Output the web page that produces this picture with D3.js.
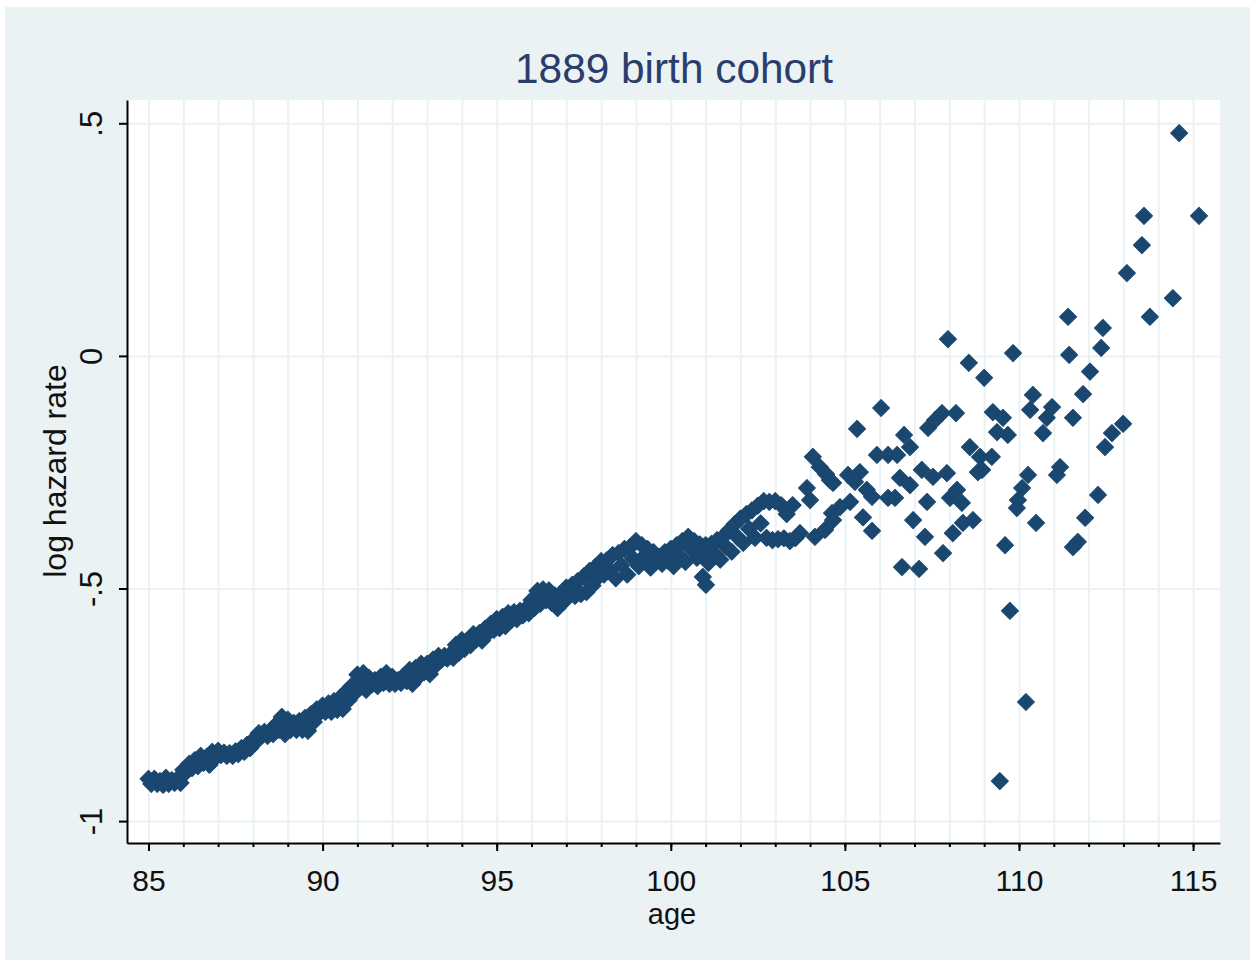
<!DOCTYPE html>
<html>
<head>
<meta charset="utf-8">
<title>1889 birth cohort</title>
<script src="https://d3js.org/d3.v7.min.js"></script>
<style>
  body { margin: 0; background: #fff; }
  svg text { font-family: "Liberation Sans", Arial, sans-serif; }
</style>
</head>
<body>
<svg id="chart" width="1255" height="964"></svg>
<script>
// ---- data ----
// dense part, monthly ages 85 .. 103.6
var bandAge = [
  85.00,85.08,85.17,85.25,85.33,85.42,85.50,85.58,85.67,85.75,85.83,85.92,
  86.00,86.08,86.17,86.25,86.33,86.42,86.50,86.58,86.67,86.75,86.83,86.92,
  87.00,87.08,87.17,87.25,87.33,87.42,87.50,87.58,87.67,87.75,87.83,87.92,
  88.00,88.08,88.17,88.25,88.33,88.42,88.50,88.58,88.67,88.75,88.83,88.92,
  89.00,89.08,89.17,89.25,89.33,89.42,89.50,89.58,89.67,89.75,89.83,89.92,
  90.00,90.08,90.17,90.25,90.33,90.42,90.50,90.58,90.67,90.75,90.83,90.92,
  91.00,91.08,91.17,91.25,91.33,91.42,91.50,91.58,91.67,91.75,91.83,91.92,
  92.00,92.08,92.17,92.25,92.33,92.42,92.50,92.58,92.67,92.75,92.83,92.92,
  93.00,93.08,93.17,93.25,93.33,93.42,93.50,93.58,93.67,93.75,93.83,93.92,
  94.00,94.08,94.17,94.25,94.33,94.42,94.50,94.58,94.67,94.75,94.83,94.92,
  95.00,95.08,95.17,95.25,95.33,95.42,95.50,95.58,95.67,95.75,95.83,95.92,
  96.00,96.08,96.17,96.25,96.33,96.42,96.50,96.58,96.67,96.75,96.83,96.92,
  97.00,97.08,97.17,97.25,97.33,97.42,97.50,97.58,97.67,97.75,97.83,97.92,
  98.00,98.08,98.17,98.25,98.33,98.42,98.50,98.58,98.67,98.75,98.83,98.92,
  99.00,99.08,99.17,99.25,99.33,99.42,99.50,99.58,99.67,99.75,99.83,99.92,
  100.00,100.08,100.17,100.25,100.33,100.42,100.50,100.58,100.67,100.75,100.83,100.92,
  101.00,101.08,101.17,101.25,101.33,101.42,101.50,101.58,101.67,101.75,101.83,101.92,
  102.00,102.08,102.17,102.25,102.33,102.42,102.50,102.58,102.67,102.75,102.83,102.92,
  103.00,103.08,103.17,103.25,103.33,103.42,103.50,103.58
];
var bandRate = [
  -0.909,-0.920,-0.909,-0.920,-0.914,-0.922,-0.907,-0.920,-0.912,-0.918,-0.909,-0.918,
  -0.890,-0.895,-0.877,-0.886,-0.869,-0.882,-0.860,-0.875,-0.862,-0.879,-0.851,-0.864,
  -0.849,-0.858,-0.853,-0.860,-0.854,-0.860,-0.850,-0.856,-0.843,-0.851,-0.836,-0.843,
  -0.826,-0.830,-0.811,-0.817,-0.808,-0.817,-0.806,-0.813,-0.792,-0.804,-0.776,-0.813,
  -0.782,-0.804,-0.789,-0.804,-0.785,-0.804,-0.778,-0.806,-0.770,-0.787,-0.760,-0.767,
  -0.752,-0.765,-0.747,-0.765,-0.742,-0.761,-0.735,-0.759,-0.722,-0.740,-0.710,-0.725,
  -0.685,-0.712,-0.682,-0.718,-0.692,-0.706,-0.697,-0.710,-0.690,-0.703,-0.682,-0.705,
  -0.690,-0.705,-0.697,-0.703,-0.688,-0.699,-0.675,-0.705,-0.671,-0.690,-0.662,-0.680,
  -0.662,-0.684,-0.653,-0.665,-0.645,-0.653,-0.645,-0.651,-0.641,-0.649,-0.621,-0.638,
  -0.611,-0.630,-0.611,-0.622,-0.598,-0.609,-0.596,-0.612,-0.586,-0.596,-0.576,-0.589,
  -0.566,-0.585,-0.561,-0.581,-0.553,-0.568,-0.551,-0.566,-0.548,-0.558,-0.544,-0.553,
  -0.525,-0.542,-0.505,-0.533,-0.502,-0.525,-0.504,-0.531,-0.515,-0.542,-0.512,-0.529,
  -0.498,-0.516,-0.492,-0.516,-0.484,-0.512,-0.474,-0.508,-0.462,-0.494,-0.454,-0.475,
  -0.441,-0.470,-0.439,-0.460,-0.428,-0.478,-0.424,-0.450,-0.415,-0.470,-0.411,-0.436,
  -0.398,-0.452,-0.407,-0.430,-0.415,-0.455,-0.422,-0.440,-0.432,-0.447,-0.422,-0.440,
  -0.415,-0.452,-0.407,-0.430,-0.398,-0.443,-0.389,-0.415,-0.398,-0.434,-0.405,-0.425,
  -0.407,-0.445,-0.404,-0.425,-0.396,-0.438,-0.389,-0.410,-0.375,-0.421,-0.362,-0.390,
  -0.350,-0.402,-0.340,-0.372,-0.332,-0.391,-0.322,-0.360,-0.312,-0.391,-0.314,-0.396,
  -0.312,-0.394,-0.321,-0.392,-0.340,-0.398,-0.321,-0.392
];
// sparse part, ages past ~101
var sparseAge = [
  100.92,101.01,
  103.71,103.91,104.00,104.08,104.28,104.46,104.57,104.66,104.14,104.43,
  104.66,104.63,104.86,105.15,105.09,105.43,105.29,105.63,105.78,105.52,
  105.78,105.35,106.04,105.92,106.24,106.50,106.70,106.87,106.24,106.44,
  106.58,106.87,106.96,107.21,107.53,107.93,107.36,107.30,106.64,107.13,
  107.39,107.59,107.79,108.19,107.96,108.22,108.02,108.36,108.68,108.39,
  108.10,107.82,108.59,108.88,109.22,108.94,108.82,108.56,109.00,109.25,
  109.54,109.37,109.68,109.83,109.60,109.74,109.45,110.20,110.26,110.09,
  109.97,109.94,110.49,110.40,110.32,110.95,110.80,110.69,111.18,111.09,
  111.41,111.44,111.55,111.84,112.04,111.90,111.69,111.55,112.27,112.36,
  112.41,112.47,112.67,112.99,113.10,113.53,113.59,113.76,114.42,114.60,
  115.17
];
var sparseRate = [
  -0.475,-0.492,
  -0.381,-0.284,-0.310,-0.217,-0.239,-0.254,-0.267,-0.273,-0.389,-0.374,
  -0.353,-0.338,-0.325,-0.314,-0.256,-0.250,-0.271,-0.288,-0.303,-0.347,
  -0.376,-0.157,-0.112,-0.213,-0.213,-0.213,-0.170,-0.196,-0.305,-0.305,
  -0.262,-0.278,-0.353,-0.245,-0.260,-0.252,-0.314,-0.389,-0.454,-0.458,
  -0.155,-0.138,-0.123,-0.123,0.036,-0.288,-0.305,-0.316,-0.353,-0.359,
  -0.381,-0.424,-0.196,-0.217,-0.217,-0.245,-0.250,-0.015,-0.047,-0.121,
  -0.133,-0.164,-0.170,0.006,-0.407,-0.548,-0.914,-0.744,-0.256,-0.284,
  -0.310,-0.327,-0.359,-0.084,-0.116,-0.110,-0.133,-0.166,-0.239,-0.256,
  0.084,0.002,-0.133,-0.082,-0.034,-0.348,-0.400,-0.411,-0.299,0.017,
  0.060,-0.196,-0.166,-0.146,0.178,0.238,0.301,0.084,0.124,0.479,
  0.301
];
var xTicks = [85, 90, 95, 100, 105, 110, 115];
var xMinor = [85,86,87,88,89,90,91,92,93,94,95,96,97,98,99,100,
              101,102,103,104,105,106,107,108,109,110,111,112,113,114,115];
var yTicks = [-1, -0.5, 0, 0.5];

// ---- layout ----
var plot = {left: 127, right: 1220, top: 100, bottom: 843};
var bg = "#eaf2f3";
var navy = "#1a476f";

var svg = d3.select("#chart");

svg.append("rect")
  .attr("x", 5).attr("y", 7)
  .attr("width", 1245).attr("height", 953)
  .attr("fill", bg);

svg.append("rect")
  .attr("x", plot.left).attr("y", plot.top)
  .attr("width", plot.right - plot.left)
  .attr("height", plot.bottom - plot.top)
  .attr("fill", "#fff");

var x = d3.scaleLinear().domain([84.383, 115.773]).range([plot.left, plot.right]);
var y = d3.scaleLinear().domain([-1.0471, 0.5501]).range([plot.bottom, plot.top]);

// grid lines
svg.append("g")
  .attr("transform", "translate(0," + plot.bottom + ")")
  .call(d3.axisBottom(x).tickValues(xMinor).tickSize(-(plot.bottom - plot.top)).tickFormat(""))
  .call(function(g){ g.select(".domain").remove(); })
  .selectAll("line").attr("stroke", bg).attr("stroke-width", 2);

svg.append("g")
  .attr("transform", "translate(" + plot.left + ",0)")
  .call(d3.axisLeft(y).tickValues(yTicks).tickSize(-(plot.right - plot.left)).tickFormat(""))
  .call(function(g){ g.select(".domain").remove(); })
  .selectAll("line").attr("stroke", bg).attr("stroke-width", 2);

// points (diamonds)
var pts = bandAge.map(function(a, i){ return [a, bandRate[i]]; })
  .concat(sparseAge.map(function(a, i){ return [a, sparseRate[i]]; }));

svg.append("g").selectAll("path")
  .data(pts)
  .join("path")
    .attr("d", d3.symbol(d3.symbolSquare, 145))
    .attr("transform", function(d){ return "translate(" + x(d[0]) + "," + y(d[1]) + ") rotate(45)"; })
    .attr("fill", navy)
    .attr("stroke", navy)
    .attr("stroke-width", 1)
    .attr("stroke-linejoin", "round");

// x axis: minor ticks each year, then major ticks with labels
svg.append("g")
  .attr("transform", "translate(0," + plot.bottom + ")")
  .call(d3.axisBottom(x).tickValues(xMinor).tickSize(4).tickSizeOuter(0).tickFormat(""))
  .call(function(g){ g.select(".domain").remove(); })
  .selectAll("line").attr("stroke", "#000").attr("stroke-width", 2);

var xAxis = svg.append("g")
  .attr("transform", "translate(0," + plot.bottom + ")")
  .call(d3.axisBottom(x).tickValues(xTicks).tickSize(8).tickSizeOuter(0).tickPadding(19));
xAxis.select(".domain").attr("stroke", "#000").attr("stroke-width", 2);
xAxis.selectAll("line").attr("stroke", "#000").attr("stroke-width", 2);
xAxis.selectAll("text")
  .attr("font-size", 30)
  .attr("font-family", "Liberation Sans, Arial, sans-serif")
  .attr("fill", "#111");

// y axis, labels turned on their side
var yAxis = svg.append("g")
  .attr("transform", "translate(" + plot.left + ",0)")
  .call(d3.axisLeft(y).tickValues(yTicks).tickSize(8).tickSizeOuter(0)
    .tickFormat(function(d){ return d === 0 ? "0" : String(d).replace("0.", "."); }));
yAxis.select(".domain").attr("stroke", "#000").attr("stroke-width", 2);
yAxis.selectAll("line").attr("stroke", "#000").attr("stroke-width", 2);
yAxis.selectAll("text")
  .attr("x", null).attr("dy", null)
  .attr("transform", "translate(-25,0) rotate(-90)")
  .attr("text-anchor", "middle")
  .attr("font-size", 31)
  .attr("font-family", "Liberation Sans, Arial, sans-serif")
  .attr("fill", "#111");

// titles
svg.append("text")
  .attr("x", 674).attr("y", 83)
  .attr("text-anchor", "middle")
  .attr("font-size", 43)
  .attr("textLength", 318)
  .attr("lengthAdjust", "spacingAndGlyphs")
  .attr("fill", "#2a3d6c")
  .text("1889 birth cohort");

svg.append("text")
  .attr("x", 672).attr("y", 924)
  .attr("text-anchor", "middle")
  .attr("font-size", 29)
  .attr("fill", "#111")
  .text("age");

svg.append("text")
  .attr("transform", "translate(66,471) rotate(-90)")
  .attr("text-anchor", "middle")
  .attr("font-size", 32)
  .attr("fill", "#111")
  .text("log hazard rate");
</script>
</body>
</html>
